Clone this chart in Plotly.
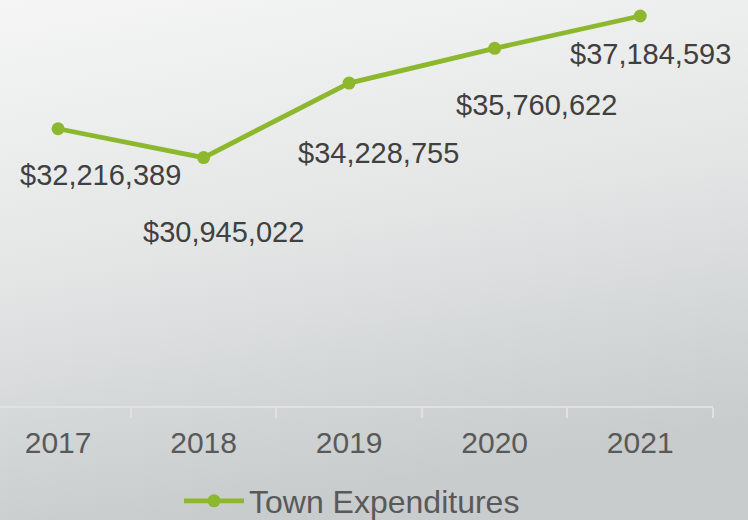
import plotly.graph_objects as go

years = ["2017", "2018", "2019", "2020", "2021"]
expenditures = [32216389, 30945022, 34228755, 35760622, 37184593]
series_name = "Town Expenditures"
label_shift_x = [42, 20, 29, 42, 10]
label_shift_y = [-46, -74, -70, -57, -38]

GREEN = "#8db82e"

svg = ("data:image/svg+xml;utf8,"
       "<svg xmlns='http://www.w3.org/2000/svg' width='748' height='520' preserveAspectRatio='none'>"
       "<defs><linearGradient id='g' x1='0' y1='0' x2='0.25' y2='1'>"
       "<stop offset='0' stop-color='%23f5f5f5'/>"
       "<stop offset='0.5' stop-color='%23e4e6e6'/>"
       "<stop offset='1' stop-color='%23c8cccd'/>"
       "</linearGradient></defs>"
       "<rect width='748' height='520' fill='url(%23g)'/></svg>")

W, H = 748, 520
ML, MR, MT, MB = 0, 35, 0, 114
PW, PH = W - ML - MR, H - MT - MB

fig = go.Figure()
fig.add_trace(go.Scatter(
    x=list(range(len(years))), y=expenditures, mode="lines+markers",
    name=series_name,
    line=dict(color=GREEN, width=4.8),
    marker=dict(color=GREEN, size=13),
    hoverinfo="skip",
))

for i, v in enumerate(expenditures):
    fig.add_annotation(x=i, y=v, xref="x", yref="y", text=f"${v:,}",
                       showarrow=False, xshift=label_shift_x[i], yshift=label_shift_y[i],
                       font=dict(family="Liberation Sans, Arial, sans-serif", size=29, color="#404040"))

fig.add_layout_image(dict(source=svg, xref="paper", yref="paper", x=0, y=1,
                          sizex=W / PW, sizey=H / PH, sizing="stretch", layer="below"))

fig.update_layout(
    width=W, height=H,
    margin=dict(l=ML, r=MR, t=MT, b=MB, autoexpand=False),
    paper_bgcolor="#e4e6e6", plot_bgcolor="rgba(0,0,0,0)",
    showlegend=True,
    legend=dict(orientation="h", x=352 / PW, xanchor="center", yref="container",
                y=(H - 501) / H, yanchor="middle",
                font=dict(family="Liberation Sans, Arial, sans-serif", size=32, color="#595959"),
                itemwidth=60, bgcolor="rgba(0,0,0,0)"),
    xaxis=dict(range=[-0.399, 4.5], tickmode="array", tickvals=list(range(len(years))),
               ticktext=years, showgrid=False, zeroline=False, automargin=False,
               showline=True, linecolor="#dfe1e2", linewidth=2,
               ticks="", tickfont=dict(family="Liberation Sans, Arial, sans-serif", size=30, color="#595959"),
               ticklabelstandoff=9),
    yaxis=dict(range=[20000000, 37890000], visible=False, fixedrange=True),
)

fig.update_xaxes(minor=dict(tickmode="array", tickvals=[0.5, 1.5, 2.5, 3.5, 4.5],
                            ticks="outside", ticklen=10, tickcolor="#dfe1e2", tickwidth=2))

fig.write_html("out.html", config={"displayModeBar": False, "staticPlot": True},
               post_script="document.body.style.margin='0';document.body.style.padding='0';")
